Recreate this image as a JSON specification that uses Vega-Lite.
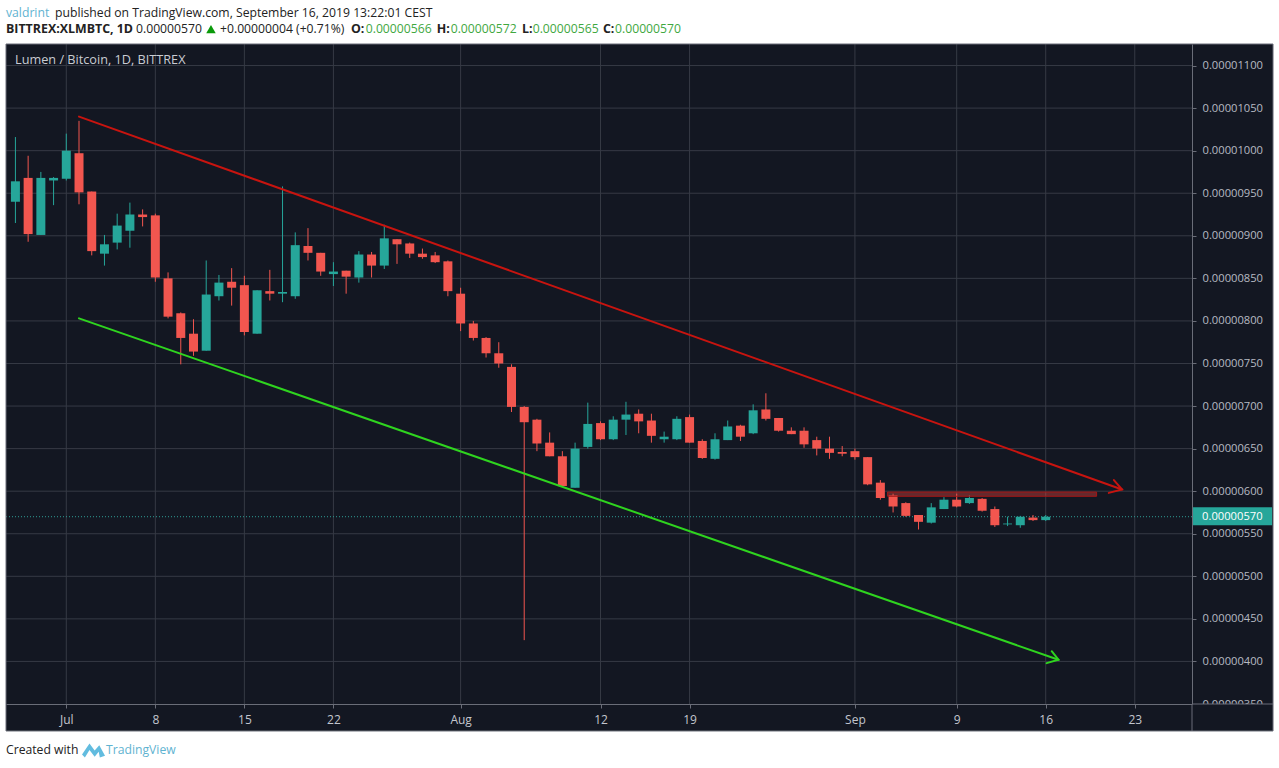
{
"$schema":"https://vega.github.io/schema/vega-lite/v6.json",
"width":1186,"height":660,
"autosize":{"type":"none"},
"padding":{"left":6,"top":44,"right":87,"bottom":64},
"background":"#131722",
"view":{"stroke":null},
"config":{"font":"Open Sans"},
"datasets":{
"candles":[
{"date":"2019-06-27","open":0.00000940,"high":0.00001016,"low":0.00000915,"close":0.00000964,"direction":"up"},
{"date":"2019-06-28","open":0.00000968,"high":0.00000994,"low":0.00000893,"close":0.00000902,"direction":"down"},
{"date":"2019-06-29","open":0.00000901,"high":0.00000975,"low":0.00000901,"close":0.00000968,"direction":"up"},
{"date":"2019-06-30","open":0.00000965,"high":0.00000969,"low":0.00000936,"close":0.00000968,"direction":"up"},
{"date":"2019-07-01","open":0.00000967,"high":0.00001020,"low":0.00000965,"close":0.00001000,"direction":"up"},
{"date":"2019-07-02","open":0.00000997,"high":0.00001035,"low":0.00000937,"close":0.00000951,"direction":"down"},
{"date":"2019-07-03","open":0.00000952,"high":0.00000952,"low":0.00000877,"close":0.00000882,"direction":"down"},
{"date":"2019-07-04","open":0.00000879,"high":0.00000901,"low":0.00000865,"close":0.00000890,"direction":"up"},
{"date":"2019-07-05","open":0.00000892,"high":0.00000926,"low":0.00000884,"close":0.00000912,"direction":"up"},
{"date":"2019-07-06","open":0.00000906,"high":0.00000939,"low":0.00000886,"close":0.00000925,"direction":"up"},
{"date":"2019-07-07","open":0.00000925,"high":0.00000931,"low":0.00000911,"close":0.00000922,"direction":"down"},
{"date":"2019-07-08","open":0.00000924,"high":0.00000926,"low":0.00000846,"close":0.00000851,"direction":"down"},
{"date":"2019-07-09","open":0.00000850,"high":0.00000857,"low":0.00000803,"close":0.00000805,"direction":"down"},
{"date":"2019-07-10","open":0.00000809,"high":0.00000810,"low":0.00000749,"close":0.00000780,"direction":"down"},
{"date":"2019-07-11","open":0.00000785,"high":0.00000802,"low":0.00000759,"close":0.00000764,"direction":"down"},
{"date":"2019-07-12","open":0.00000765,"high":0.00000871,"low":0.00000765,"close":0.00000831,"direction":"up"},
{"date":"2019-07-13","open":0.00000829,"high":0.00000854,"low":0.00000824,"close":0.00000845,"direction":"up"},
{"date":"2019-07-14","open":0.00000846,"high":0.00000862,"low":0.00000818,"close":0.00000839,"direction":"down"},
{"date":"2019-07-15","open":0.00000842,"high":0.00000853,"low":0.00000783,"close":0.00000787,"direction":"down"},
{"date":"2019-07-16","open":0.00000785,"high":0.00000836,"low":0.00000785,"close":0.00000836,"direction":"up"},
{"date":"2019-07-17","open":0.00000835,"high":0.00000860,"low":0.00000824,"close":0.00000832,"direction":"down"},
{"date":"2019-07-18","open":0.00000832,"high":0.00000958,"low":0.00000822,"close":0.00000834,"direction":"up"},
{"date":"2019-07-19","open":0.00000829,"high":0.00000904,"low":0.00000826,"close":0.00000889,"direction":"up"},
{"date":"2019-07-20","open":0.00000888,"high":0.00000909,"low":0.00000871,"close":0.00000880,"direction":"down"},
{"date":"2019-07-21","open":0.00000880,"high":0.00000880,"low":0.00000853,"close":0.00000858,"direction":"down"},
{"date":"2019-07-22","open":0.00000855,"high":0.00000869,"low":0.00000841,"close":0.00000858,"direction":"up"},
{"date":"2019-07-23","open":0.00000859,"high":0.00000859,"low":0.00000832,"close":0.00000852,"direction":"down"},
{"date":"2019-07-24","open":0.00000851,"high":0.00000882,"low":0.00000845,"close":0.00000878,"direction":"up"},
{"date":"2019-07-25","open":0.00000878,"high":0.00000881,"low":0.00000851,"close":0.00000865,"direction":"down"},
{"date":"2019-07-26","open":0.00000865,"high":0.00000913,"low":0.00000861,"close":0.00000897,"direction":"up"},
{"date":"2019-07-27","open":0.00000896,"high":0.00000896,"low":0.00000867,"close":0.00000890,"direction":"down"},
{"date":"2019-07-28","open":0.00000891,"high":0.00000892,"low":0.00000874,"close":0.00000879,"direction":"down"},
{"date":"2019-07-29","open":0.00000879,"high":0.00000885,"low":0.00000873,"close":0.00000875,"direction":"down"},
{"date":"2019-07-30","open":0.00000877,"high":0.00000881,"low":0.00000868,"close":0.00000869,"direction":"down"},
{"date":"2019-07-31","open":0.00000870,"high":0.00000871,"low":0.00000829,"close":0.00000835,"direction":"down"},
{"date":"2019-08-01","open":0.00000832,"high":0.00000839,"low":0.00000788,"close":0.00000797,"direction":"down"},
{"date":"2019-08-02","open":0.00000797,"high":0.00000800,"low":0.00000777,"close":0.00000780,"direction":"down"},
{"date":"2019-08-03","open":0.00000780,"high":0.00000781,"low":0.00000757,"close":0.00000762,"direction":"down"},
{"date":"2019-08-04","open":0.00000762,"high":0.00000775,"low":0.00000745,"close":0.00000750,"direction":"down"},
{"date":"2019-08-05","open":0.00000746,"high":0.00000749,"low":0.00000693,"close":0.00000699,"direction":"down"},
{"date":"2019-08-06","open":0.00000699,"high":0.00000700,"low":0.00000425,"close":0.00000681,"direction":"down"},
{"date":"2019-08-07","open":0.00000684,"high":0.00000685,"low":0.00000647,"close":0.00000656,"direction":"down"},
{"date":"2019-08-08","open":0.00000657,"high":0.00000669,"low":0.00000641,"close":0.00000641,"direction":"down"},
{"date":"2019-08-09","open":0.00000641,"high":0.00000647,"low":0.00000605,"close":0.00000606,"direction":"down"},
{"date":"2019-08-10","open":0.00000604,"high":0.00000657,"low":0.00000604,"close":0.00000650,"direction":"up"},
{"date":"2019-08-11","open":0.00000652,"high":0.00000704,"low":0.00000650,"close":0.00000679,"direction":"up"},
{"date":"2019-08-12","open":0.00000680,"high":0.00000682,"low":0.00000660,"close":0.00000661,"direction":"down"},
{"date":"2019-08-13","open":0.00000661,"high":0.00000688,"low":0.00000660,"close":0.00000684,"direction":"up"},
{"date":"2019-08-14","open":0.00000684,"high":0.00000705,"low":0.00000666,"close":0.00000690,"direction":"up"},
{"date":"2019-08-15","open":0.00000691,"high":0.00000696,"low":0.00000668,"close":0.00000682,"direction":"down"},
{"date":"2019-08-16","open":0.00000683,"high":0.00000691,"low":0.00000657,"close":0.00000665,"direction":"down"},
{"date":"2019-08-17","open":0.00000661,"high":0.00000670,"low":0.00000657,"close":0.00000664,"direction":"up"},
{"date":"2019-08-18","open":0.00000661,"high":0.00000688,"low":0.00000660,"close":0.00000685,"direction":"up"},
{"date":"2019-08-19","open":0.00000687,"high":0.00000690,"low":0.00000657,"close":0.00000657,"direction":"down"},
{"date":"2019-08-20","open":0.00000659,"high":0.00000661,"low":0.00000638,"close":0.00000639,"direction":"down"},
{"date":"2019-08-21","open":0.00000638,"high":0.00000668,"low":0.00000637,"close":0.00000661,"direction":"up"},
{"date":"2019-08-22","open":0.00000660,"high":0.00000683,"low":0.00000660,"close":0.00000676,"direction":"up"},
{"date":"2019-08-23","open":0.00000677,"high":0.00000678,"low":0.00000659,"close":0.00000664,"direction":"down"},
{"date":"2019-08-24","open":0.00000668,"high":0.00000702,"low":0.00000667,"close":0.00000695,"direction":"up"},
{"date":"2019-08-25","open":0.00000696,"high":0.00000715,"low":0.00000683,"close":0.00000685,"direction":"down"},
{"date":"2019-08-26","open":0.00000686,"high":0.00000686,"low":0.00000670,"close":0.00000671,"direction":"down"},
{"date":"2019-08-27","open":0.00000671,"high":0.00000675,"low":0.00000667,"close":0.00000667,"direction":"down"},
{"date":"2019-08-28","open":0.00000671,"high":0.00000675,"low":0.00000651,"close":0.00000655,"direction":"down"},
{"date":"2019-08-29","open":0.00000660,"high":0.00000664,"low":0.00000642,"close":0.00000650,"direction":"down"},
{"date":"2019-08-30","open":0.00000650,"high":0.00000664,"low":0.00000638,"close":0.00000645,"direction":"down"},
{"date":"2019-08-31","open":0.00000646,"high":0.00000653,"low":0.00000641,"close":0.00000644,"direction":"down"},
{"date":"2019-09-01","open":0.00000647,"high":0.00000650,"low":0.00000637,"close":0.00000640,"direction":"down"},
{"date":"2019-09-02","open":0.00000640,"high":0.00000640,"low":0.00000607,"close":0.00000608,"direction":"down"},
{"date":"2019-09-03","open":0.00000610,"high":0.00000613,"low":0.00000590,"close":0.00000592,"direction":"down"},
{"date":"2019-09-04","open":0.00000595,"high":0.00000597,"low":0.00000575,"close":0.00000582,"direction":"down"},
{"date":"2019-09-05","open":0.00000586,"high":0.00000587,"low":0.00000570,"close":0.00000571,"direction":"down"},
{"date":"2019-09-06","open":0.00000572,"high":0.00000572,"low":0.00000555,"close":0.00000564,"direction":"down"},
{"date":"2019-09-07","open":0.00000563,"high":0.00000586,"low":0.00000562,"close":0.00000581,"direction":"up"},
{"date":"2019-09-08","open":0.00000579,"high":0.00000593,"low":0.00000579,"close":0.00000590,"direction":"up"},
{"date":"2019-09-09","open":0.00000590,"high":0.00000597,"low":0.00000581,"close":0.00000582,"direction":"down"},
{"date":"2019-09-10","open":0.00000586,"high":0.00000595,"low":0.00000585,"close":0.00000592,"direction":"up"},
{"date":"2019-09-11","open":0.00000591,"high":0.00000592,"low":0.00000576,"close":0.00000577,"direction":"down"},
{"date":"2019-09-12","open":0.00000579,"high":0.00000582,"low":0.00000558,"close":0.00000560,"direction":"down"},
{"date":"2019-09-13","open":0.00000561,"high":0.00000570,"low":0.00000559,"close":0.00000562,"direction":"up"},
{"date":"2019-09-14","open":0.00000560,"high":0.00000571,"low":0.00000557,"close":0.00000570,"direction":"up"},
{"date":"2019-09-15","open":0.00000569,"high":0.00000572,"low":0.00000565,"close":0.00000566,"direction":"down"},
{"date":"2019-09-16","open":0.00000566,"high":0.00000572,"low":0.00000565,"close":0.00000570,"direction":"up"}
],
"dateTicks":[
{"date":"2019-07-01"},{"date":"2019-07-08"},{"date":"2019-07-15"},{"date":"2019-07-22"},{"date":"2019-08-01"},{"date":"2019-08-12"},{"date":"2019-08-19"},{"date":"2019-09-01"},{"date":"2019-09-09"},{"date":"2019-09-16"},{"date":"2019-09-23"}
],
"priceTicks":[
{"price":0.00000400},{"price":0.00000450},{"price":0.00000500},{"price":0.00000550},{"price":0.00000600},{"price":0.00000650},{"price":0.00000700},{"price":0.00000750},{"price":0.00000800},{"price":0.00000850},{"price":0.00000900},{"price":0.00000950},{"price":0.00001000},{"price":0.00001050},{"price":0.00001100}
],
"trendlines":[
{"series":"upper","step":1,"date":"2019-07-02T00:00:00Z","price":0.00001040,"tone":"upperLine"},
{"series":"upper","step":2,"date":"2019-09-22T00:00:00Z","price":0.00000602,"tone":"upperLine"},
{"series":"upperHead","step":1,"date":"2019-09-21T08:38:00Z","price":0.00000613,"tone":"upperLine"},
{"series":"upperHead","step":2,"date":"2019-09-22T00:00:00Z","price":0.00000602,"tone":"upperLine"},
{"series":"upperHead","step":3,"date":"2019-09-20T23:00:00Z","price":0.00000598,"tone":"upperLine"},
{"series":"lower","step":1,"date":"2019-07-02T00:00:00Z","price":0.00000803,"tone":"lowerLine"},
{"series":"lower","step":2,"date":"2019-09-17T00:00:00Z","price":0.00000402,"tone":"lowerLine"},
{"series":"lowerHead","step":1,"date":"2019-09-16T11:17:00Z","price":0.00000412,"tone":"lowerLine"},
{"series":"lowerHead","step":2,"date":"2019-09-17T00:00:00Z","price":0.00000402,"tone":"lowerLine"},
{"series":"lowerHead","step":3,"date":"2019-09-16T01:40:00Z","price":0.00000398,"tone":"lowerLine"}
],
"resistance":[{"start":"2019-09-03T13:41:00Z","end":"2019-09-20T00:00:00Z","top":0.00000599,"bottom":0.00000594}],
"current":[{"price":0.00000570,"label":"0.00000570","start":"2019-09-27T13:55:00Z","end":"2019-10-03T19:00:00Z","labelDate":"2019-09-28T07:00:00Z","top":0.00000581,"bottom":0.00000560}],
"page":[
{"start":"2019-06-20T00:00:00Z","end":"2019-10-10T00:00:00Z","top":0.00001300,"bottom":0.000011253,"tone":"paper"},
{"start":"2019-06-20T00:00:00Z","end":"2019-10-10T00:00:00Z","top":0.000003183,"bottom":0.0000020,"tone":"paper"},
{"start":"2019-06-20T00:00:00Z","end":"2019-06-26T06:14:00Z","top":0.00001300,"bottom":0.0000020,"tone":"paper"},
{"start":"2019-10-03T20:53:00Z","end":"2019-10-10T00:00:00Z","top":0.00001300,"bottom":0.0000020,"tone":"paper"},
{"start":"2019-06-26T06:14:00Z","end":"2019-10-03T20:53:00Z","top":0.000003500,"bottom":0.000003183,"tone":"panel"}
],
"frame":[{"start":"2019-06-26T06:14:00Z","end":"2019-10-03T20:53:00Z","top":0.000011253,"bottom":0.000003183}],
"separators":[
{"start":"2019-09-27T12:00:00Z","end":"2019-09-27T12:00:00Z","top":0.000003500,"bottom":0.000003183},
{"start":"2019-09-27T12:00:00Z","end":"2019-10-03T20:53:00Z","top":0.000003500,"bottom":0.000003500}
],
"logo":[{"date":"2019-07-03T03:22:00Z","price":0.000002954}],
"rise":[{"date":"2019-07-12T09:00:00Z","price":0.000011429}],
"panelTitle":[{"date":"2019-06-26T23:17:00Z","price":0.000011065,"text":"Lumen / Bitcoin, 1D, BITTREX"}],
"regularText":[
{"date":"2019-06-26T06:14:00Z","price":0.000011617,"text":"valdrint","tone":"link"},
{"date":"2019-06-30T02:41:00Z","price":0.000011617,"text":"published on TradingView.com, September 16, 2019 13:22:01 CEST","tone":"ink"},
{"date":"2019-07-06T11:31:00Z","price":0.000011429,"text":"0.00000570","tone":"ink"},
{"date":"2019-07-13T02:00:00Z","price":0.000011429,"text":"+0.00000004 (+0.71%)","tone":"ink"},
{"date":"2019-07-24T12:57:00Z","price":0.000011429,"text":"0.00000566","tone":"rise2"},
{"date":"2019-07-31T05:17:00Z","price":0.000011429,"text":"0.00000572","tone":"rise2"},
{"date":"2019-08-06T16:00:00Z","price":0.000011429,"text":"0.00000565","tone":"rise2"},
{"date":"2019-08-13T03:22:00Z","price":0.000011429,"text":"0.00000570","tone":"rise2"},
{"date":"2019-06-26T06:14:00Z","price":0.000002954,"text":"Created with","tone":"ink"},
{"date":"2019-07-04T02:53:00Z","price":0.000002954,"text":"TradingView","tone":"link"}
],
"boldText":[
{"date":"2019-06-26T06:14:00Z","price":0.000011429,"text":"BITTREX:XLMBTC, 1D","tone":"ink"},
{"date":"2019-07-23T09:07:00Z","price":0.000011429,"text":"O:","tone":"ink"},
{"date":"2019-07-30T02:50:00Z","price":0.000011429,"text":"H:","tone":"ink"},
{"date":"2019-08-05T19:55:00Z","price":0.000011429,"text":"L:","tone":"ink"},
{"date":"2019-08-12T04:34:00Z","price":0.000011429,"text":"C:","tone":"ink"}
]
},
"encoding":{
"x":{"field":"date","type":"temporal"},
"color":{"legend":null}
},
"resolve":{"scale":{"color":"shared"}},
"layer":[
{"data":{"name":"page"},"mark":{"type":"rect","strokeWidth":0},
 "encoding":{"x":{"field":"start","type":"temporal","scale":{"type":"utc","padding":0,"domain":["2019-06-26T06:14:00Z","2019-09-27T12:00:00Z"]},
   "axis":{"title":null,"grid":false,"zindex":1,"values":["2019-07-01T00:00:00Z","2019-07-08T00:00:00Z","2019-07-15T00:00:00Z","2019-07-22T00:00:00Z","2019-08-01T00:00:00Z","2019-08-12T00:00:00Z","2019-08-19T00:00:00Z","2019-09-01T00:00:00Z","2019-09-09T00:00:00Z","2019-09-16T00:00:00Z","2019-09-23T00:00:00Z"],
   "labelExpr":"utcdate(datum.value)==1 ? utcFormat(datum.value,'%b') : utcFormat(datum.value,'%-d')",
   "labelFontSize":12,"labelFont":"Open Sans","labelColor":"#c3c6ce","labelPadding":6,"tickSize":4,"tickColor":"#6a6d78","domainColor":"#6a6d78","labelOverlap":false,"labelFlush":false}},
  "x2":{"field":"end"},
  "y":{"field":"top","type":"quantitative","scale":{"domain":[0.0000035,0.000011253],"nice":false,"zero":false},
   "axis":{"orient":"right","title":null,"grid":false,"zindex":0,"values":[0.0000035,0.000004,0.0000045,0.000005,0.0000055,0.000006,0.0000065,0.000007,0.0000075,0.000008,0.0000085,0.000009,0.0000095,0.00001,0.0000105,0.000011],
   "format":".8f","labelFontSize":11.2,"labelFont":"Open Sans","labelColor":"#b7bac2","labelPadding":6,"tickSize":4,"tickColor":"#6a6d78","domainColor":"#6a6d78","labelOverlap":false,"labelFlush":false}},
  "y2":{"field":"bottom"},
  "color":{"field":"tone","type":"nominal","legend":null,"scale":{"domain":["up","down","paper","panel","upperLine","lowerLine","ink","link","rise2"],"range":["#26a69a","#f2564f","#ffffff","#131722","#c8140f","#2fd41f","#222222","#5fb3d1","#3fa83f"]}}}},
{"data":{"name":"dateTicks"},"mark":{"type":"rule","color":"#363a45","strokeWidth":1},"encoding":{"x":{"field":"date","type":"temporal"}}},
{"data":{"name":"priceTicks"},"mark":{"type":"rule","color":"#363a45","strokeWidth":1},"encoding":{"x":{"value":0},"x2":{"value":1186},"y":{"field":"price","type":"quantitative"}}},
{"data":{"name":"current"},"mark":{"type":"rule","color":"#2f9c93","strokeWidth":1,"strokeDash":[1,2]},"encoding":{"x":{"value":0},"x2":{"value":1186},"y":{"field":"price","type":"quantitative"}}},
{"data":{"name":"candles"},"mark":{"type":"rule","strokeWidth":1},"encoding":{"x":{"field":"date","type":"temporal"},"y":{"field":"low","type":"quantitative"},"y2":{"field":"high"},"color":{"field":"direction","type":"nominal","legend":null}}},
{"data":{"name":"candles"},"mark":{"type":"bar","width":9},"encoding":{"x":{"field":"date","type":"temporal"},"y":{"field":"open","type":"quantitative"},"y2":{"field":"close"},"color":{"field":"direction","type":"nominal","legend":null}}},
{"data":{"name":"resistance"},"mark":{"type":"rect","fill":"#e0453f","fillOpacity":0.4,"stroke":"#a51616","strokeWidth":1},"encoding":{"x":{"field":"start","type":"temporal"},"x2":{"field":"end"},"y":{"field":"top","type":"quantitative"},"y2":{"field":"bottom"}}},
{"data":{"name":"trendlines"},"mark":{"type":"line","strokeWidth":2,"strokeCap":"round","strokeJoin":"miter"},"encoding":{"x":{"field":"date","type":"temporal"},"y":{"field":"price","type":"quantitative"},"detail":{"field":"series"},"order":{"field":"step","type":"quantitative"},"color":{"field":"tone","type":"nominal","legend":null}}},
{"data":{"name":"frame"},"mark":{"type":"rect","fillOpacity":0,"fill":"#131722","stroke":"#6a6d78","strokeWidth":1},"encoding":{"x":{"field":"start","type":"temporal"},"x2":{"field":"end"},"y":{"field":"top","type":"quantitative"},"y2":{"field":"bottom"}}},
{"data":{"name":"separators"},"mark":{"type":"rule","color":"#6a6d78","strokeWidth":1},"encoding":{"x":{"field":"start","type":"temporal"},"x2":{"field":"end"},"y":{"field":"top","type":"quantitative"},"y2":{"field":"bottom"}}},
{"data":{"name":"current"},"mark":{"type":"rect","fill":"#26a69a"},"encoding":{"x":{"field":"start","type":"temporal"},"x2":{"field":"end"},"y":{"field":"top","type":"quantitative"},"y2":{"field":"bottom"}}},
{"data":{"name":"current"},"mark":{"type":"text","align":"left","baseline":"middle","font":"Open Sans","fontSize":11.2,"color":"#ffffff"},"encoding":{"x":{"field":"labelDate","type":"temporal"},"y":{"field":"price","type":"quantitative"},"text":{"field":"label"}}},
{"data":{"name":"panelTitle"},"mark":{"type":"text","align":"left","baseline":"middle","font":"Open Sans","fontSize":12.7,"color":"#c9ccd3"},"encoding":{"x":{"field":"date","type":"temporal"},"y":{"field":"price","type":"quantitative"},"text":{"field":"text"}}},
{"data":{"name":"regularText"},"mark":{"type":"text","align":"left","baseline":"middle","font":"Open Sans","fontSize":12.2},"encoding":{"x":{"field":"date","type":"temporal"},"y":{"field":"price","type":"quantitative"},"text":{"field":"text"},"color":{"field":"tone","type":"nominal","legend":null}}},
{"data":{"name":"boldText"},"mark":{"type":"text","align":"left","baseline":"middle","font":"Open Sans","fontSize":12.4,"fontWeight":"bold"},"encoding":{"x":{"field":"date","type":"temporal"},"y":{"field":"price","type":"quantitative"},"text":{"field":"text"},"color":{"field":"tone","type":"nominal","legend":null}}},
{"data":{"name":"rise"},"mark":{"type":"point","filled":true,"shape":"triangle-up","size":90,"opacity":1,"color":"#0a9a0a"},"encoding":{"x":{"field":"date","type":"temporal"},"y":{"field":"price","type":"quantitative"}}},
{"data":{"name":"logo"},"mark":{"type":"point","filled":true,"size":529,"opacity":1,"color":"#62bcdf","shape":"M-1,0.35 L-0.35,-0.6 L0.1,0 L0.5,-0.45 L1,0.45 L0.55,0.6 L0.45,0.1 L0.1,0.55 L-0.35,-0.05 L-0.75,0.6 Z"},"encoding":{"x":{"field":"date","type":"temporal"},"y":{"field":"price","type":"quantitative"}}}
]
}
